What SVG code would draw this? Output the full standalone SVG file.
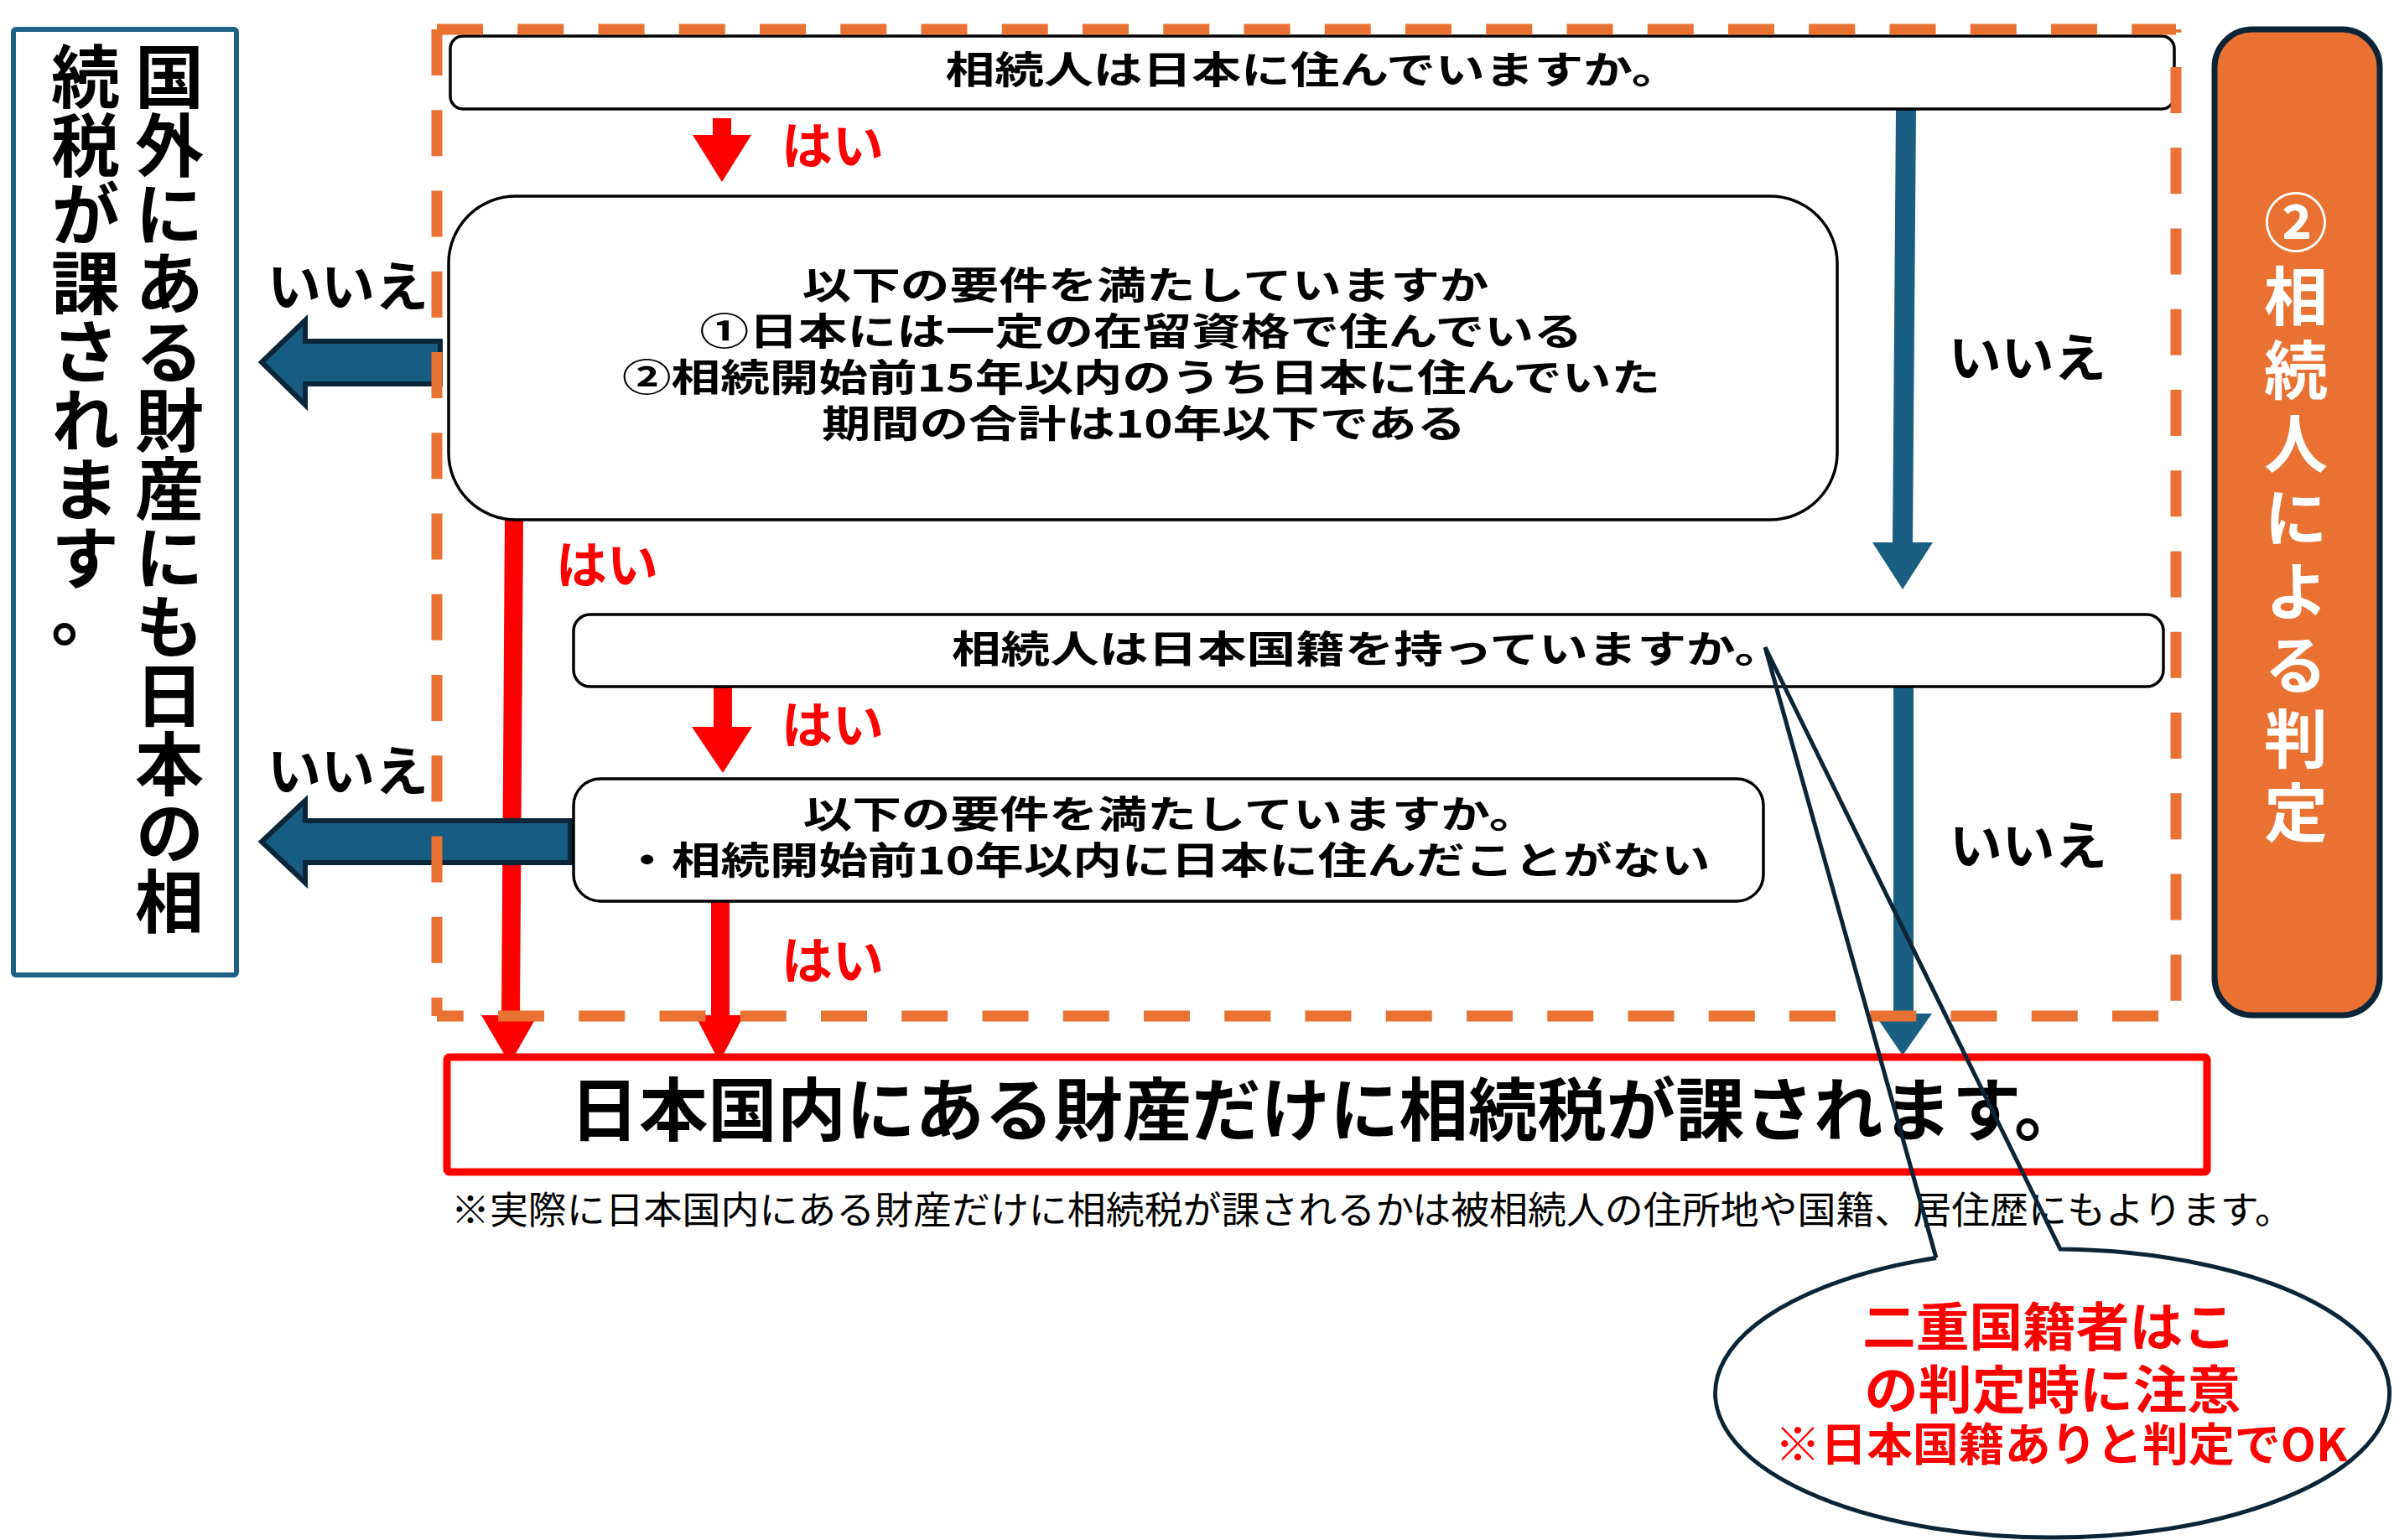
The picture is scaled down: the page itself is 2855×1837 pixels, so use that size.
<svg xmlns="http://www.w3.org/2000/svg" width="2855" height="1837" viewBox="0 0 2855 1837">
<style>
.t{font-family:"Noto Sans CJK JP","Noto Sans CJK SC",sans-serif;font-weight:700;fill:#000}
.r{fill:#FF0000}
.w{fill:#FFFFFF}
.n{font-weight:400}
.v{writing-mode:vertical-rl;text-orientation:mixed}
.box{fill:#FFFFFF;stroke:#000;stroke-width:3.5}
.red{fill:#FF0000;stroke:none}
.blk{fill:#175d82;stroke:#0a2638;stroke-width:6;stroke-linejoin:miter}
.blu{fill:#1a5f82;stroke:none}
.dash{stroke:#E97132;stroke-width:13;fill:none;stroke-dasharray:55 41.25}
</style>
<rect width="2855" height="1837" fill="#FFFFFF"/>

<g id="result-foreign">
<rect x="16" y="35" width="266" height="1128" rx="3" fill="#FFFFFF" stroke="#1d6185" stroke-width="6"/>
<text class="t v" x="202" y="50" font-size="82">国外にある財産にも日本の相</text>
<text class="t v" x="102" y="50" font-size="82">続税が課されます</text>
<text class="t" x="61" y="763" font-size="82">。</text>
</g>

<g id="connectors">
<rect class="red" x="850" y="141" width="22" height="21"/>
<polygon class="red" points="826,161 896,161 861,217"/>
<polygon class="red" points="602,620 624,620 620,1212 598,1212"/>
<polygon class="red" points="574,1211 641,1211 608,1269"/>
<rect class="red" x="851" y="817" width="22" height="51"/>
<polygon class="red" points="825,867 897,867 862,922"/>
<rect class="red" x="848" y="1073" width="22" height="139"/>
<polygon class="red" points="829,1211 887,1211 858,1267"/>
<polygon class="blu" points="2261,129 2285,129 2281,648 2257,648"/>
<polygon class="blu" points="2233,647 2305,647 2269,703"/>
<rect class="blu" x="2258" y="817" width="24" height="394"/>
<polygon class="blu" points="2235,1209 2304,1209 2269,1259"/>
<polygon class="blk" points="525,407 364,407 364,382 312,432 364,483 364,458 525,458"/>
<polygon class="blk" points="680,979 364,979 364,955 312,1004 364,1053 364,1029 680,1029"/>
<text class="t r" x="932" y="196" font-size="60" textLength="122" lengthAdjust="spacingAndGlyphs">はい</text>
<text class="t r" x="663" y="696" font-size="60" textLength="122" lengthAdjust="spacingAndGlyphs">はい</text>
<text class="t r" x="932" y="887" font-size="60" textLength="122" lengthAdjust="spacingAndGlyphs">はい</text>
<text class="t r" x="932" y="1168" font-size="60" textLength="122" lengthAdjust="spacingAndGlyphs">はい</text>
<text class="t" x="319" y="365" font-size="64" textLength="192" lengthAdjust="spacingAndGlyphs">いいえ</text>
<text class="t" x="319" y="943" font-size="64" textLength="192" lengthAdjust="spacingAndGlyphs">いいえ</text>
<text class="t" x="2324" y="450" font-size="62" textLength="188" lengthAdjust="spacingAndGlyphs">いいえ</text>
<text class="t" x="2325" y="1032" font-size="62" textLength="188" lengthAdjust="spacingAndGlyphs">いいえ</text>
</g>

<g id="q-residence">
<rect class="box" x="537" y="43" width="2056" height="87" rx="15"/>
<text class="t" x="1566" y="100" font-size="45" text-anchor="middle" textLength="877" lengthAdjust="spacingAndGlyphs">相続人は日本に住んでいますか。</text>
</g>

<g id="q-requirements-1">
<rect class="box" x="535" y="234" width="1656" height="386" rx="80"/>
<text class="t" x="1366" y="357" font-size="45" text-anchor="middle" textLength="819" lengthAdjust="spacingAndGlyphs">以下の要件を満たしていますか</text>
<text class="t" x="1361" y="412" font-size="45" text-anchor="middle" textLength="1053" lengthAdjust="spacingAndGlyphs">①日本には一定の在留資格で住んでいる</text>
<text class="t" x="1361" y="467" font-size="45" text-anchor="middle" textLength="1238" lengthAdjust="spacingAndGlyphs">②相続開始前15年以内のうち日本に住んでいた</text>
<text class="t" x="1364" y="522" font-size="45" text-anchor="middle" textLength="768" lengthAdjust="spacingAndGlyphs">期間の合計は10年以下である</text>
</g>

<g id="q-nationality">
<rect class="box" x="684" y="733" width="1896" height="86" rx="20"/>
<text class="t" x="1631" y="791" font-size="45" text-anchor="middle" textLength="992" lengthAdjust="spacingAndGlyphs">相続人は日本国籍を持っていますか。</text>
</g>

<g id="q-requirements-2">
<rect class="box" x="684" y="929" width="1419" height="146" rx="32"/>
<text class="t" x="1396" y="988" font-size="45" text-anchor="middle" textLength="877" lengthAdjust="spacingAndGlyphs">以下の要件を満たしていますか。</text>
<text class="t" x="1391" y="1043" font-size="45" text-anchor="middle" textLength="1297" lengthAdjust="spacingAndGlyphs">・相続開始前10年以内に日本に住んだことがない</text>
</g>

<g id="frame">
<line class="dash" x1="521" y1="35" x2="2595" y2="35"/>
<line class="dash" x1="2595" y1="35" x2="2595" y2="1212" stroke-dashoffset="51.25"/>
<line class="dash" x1="521" y1="1212" x2="2595" y2="1212" stroke-dashoffset="23.25"/>
<line class="dash" x1="521" y1="35" x2="521" y2="1212"/>
</g>

<g id="label-judgement">
<rect x="2641" y="35" width="197" height="1176" rx="45" fill="#E97132" stroke="#0b2536" stroke-width="7"/>
<text class="t w v" x="2738" y="227" font-size="76" letter-spacing="12">②相続人による判定</text>
</g>

<g id="result-domestic">
<rect x="533" y="1261" width="2099" height="137" rx="3" fill="#FFFFFF" stroke="#FF0000" stroke-width="9"/>
<text class="t" x="1582" y="1354" font-size="82" text-anchor="middle" textLength="1805" lengthAdjust="spacingAndGlyphs">日本国内にある財産だけに相続税が課されます。</text>
</g>

<g id="footnote">
<text class="t n" x="538" y="1460" font-size="45" textLength="2197" lengthAdjust="spacingAndGlyphs">※実際に日本国内にある財産だけに相続税が課されるかは被相続人の住所地や国籍、居住歴にもよります。</text>
</g>

<g id="callout">
<ellipse cx="2447" cy="1662" rx="402" ry="172" fill="#FFFFFF"/>
<path d="M2309,1500.5 L2105,772 L2457,1490 A402,172 0 1 1 2309,1500.5" fill="none" stroke="#0b2536" stroke-width="5" stroke-linejoin="miter"/>
<text class="t r" x="2444" y="1606" font-size="62" text-anchor="middle" textLength="446" lengthAdjust="spacingAndGlyphs">二重国籍者はこ</text>
<text class="t r" x="2448" y="1681" font-size="62" text-anchor="middle" textLength="449" lengthAdjust="spacingAndGlyphs">の判定時に注意</text>
<text class="t r" x="2458" y="1743" font-size="54" text-anchor="middle" textLength="683" lengthAdjust="spacingAndGlyphs">※日本国籍ありと判定でOK</text>
</g>
</svg>
